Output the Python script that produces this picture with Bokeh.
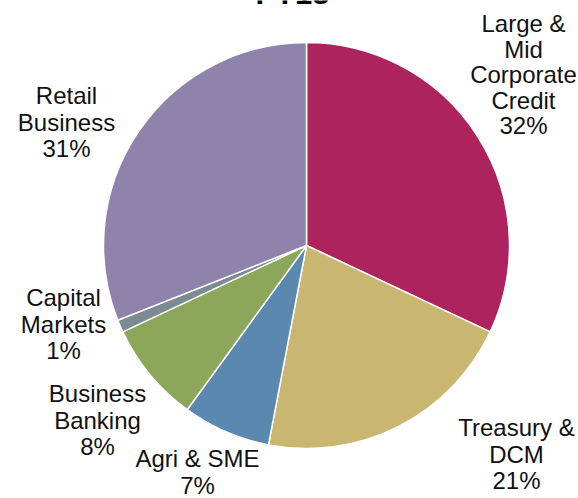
import math
from bokeh.plotting import figure
from bokeh.models import Range1d, ColumnDataSource
from bokeh.core.properties import value
from bokeh.embed import file_html
from bokeh.resources import INLINE

# ---- data ----
title = "FY13"
categories = ["Large & Mid Corporate Credit", "Treasury & DCM", "Agri & SME",
              "Business Banking", "Capital Markets", "Retail Business"]
shares = [32, 21, 7, 8, 1, 31]
colors = ["#AD235D", "#C9B670", "#5B88AE", "#8CA65A", "#7C8B93", "#8E84AB"]
label_lines = [["Large &", "Mid", "Corporate", "Credit"],
               ["Treasury &", "DCM"],
               ["Agri & SME"],
               ["Business", "Banking"],
               ["Capital", "Markets"],
               ["Retail", "Business"]]

# ---- layout (pixel-based data space) ----
W, H = 578, 498
cx, cy, R = 306, 498 - 245, 203
# label anchor (image x, first line image y, line step)
label_pos = [(523, 23, 25.5), (516, 427, 26.5), (197, 458, 26.5),
             (97, 393, 26.5), (63, 297, 26.5), (66, 95, 26.5)]

total = float(sum(shares))
starts, ends = [], []
cum = 0.0
for s in shares:
    a0 = math.pi / 2 - 2 * math.pi * cum / total
    cum += s
    a1 = math.pi / 2 - 2 * math.pi * cum / total
    starts.append(a0)
    ends.append(a1)

src = ColumnDataSource(dict(x=[cx] * len(shares), y=[cy] * len(shares),
                            start=starts, end=ends, color=colors))

p = figure(width=W, height=H, x_range=Range1d(0, W), y_range=Range1d(0, H),
           output_backend="svg", toolbar_location=None, min_border=0,
           background_fill_color="white", border_fill_color="white")
p.axis.visible = False
p.grid.visible = False
p.outline_line_color = None

p.wedge(x="x", y="y", radius=R, start_angle="start", end_angle="end",
        direction="clock", fill_color="color", line_color="white",
        line_width=1.5, source=src)

tx, ty, tt = [], [], []
for lines, share, (lx, ly, step) in zip(label_lines, shares, label_pos):
    all_lines = lines + [f"{share}%"]
    for i, t in enumerate(all_lines):
        tx.append(lx)
        ty.append(H - (ly + i * step))
        tt.append(t)

p.text(x=tx, y=ty, text=tt, text_align="center", text_baseline="middle",
       text_font=value("Liberation Sans"), text_font_size="24px",
       text_color="#111111")

# title, cut off at the top edge as in the reference
p.text(x=[292], y=[H + 7], text=[title], text_align="center",
       text_baseline="alphabetic", text_font=value("Liberation Sans"),
       text_font_size="31px", text_font_style="bold", text_color="#000000")

open("out.html", "w").write(file_html(p, INLINE))
